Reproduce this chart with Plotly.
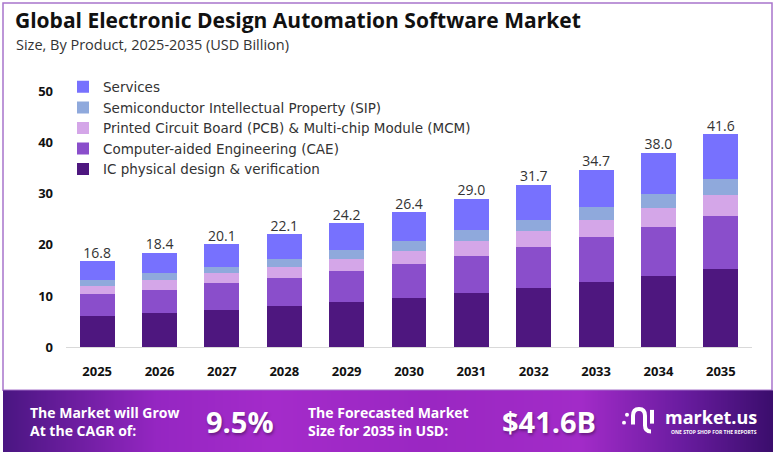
import plotly.graph_objects as go

years = ["2025", "2026", "2027", "2028", "2029", "2030", "2031", "2032", "2033", "2034", "2035"]
ic_design = [6.1, 6.7, 7.3, 8.1, 8.8, 9.7, 10.6, 11.6, 12.7, 13.9, 15.3]
cae = [4.2, 4.5, 5.2, 5.5, 6.0, 6.6, 7.2, 7.9, 8.8, 9.5, 10.4]
pcb_mcm = [1.7, 1.9, 1.9, 2.1, 2.4, 2.5, 2.9, 3.2, 3.4, 3.8, 4.0]
sip = [1.1, 1.3, 1.3, 1.5, 1.8, 1.9, 2.1, 2.2, 2.4, 2.7, 3.1]
services = [3.7, 4.0, 4.4, 4.9, 5.2, 5.7, 6.2, 6.8, 7.4, 8.1, 8.8]
totals = [16.8, 18.4, 20.1, 22.1, 24.2, 26.4, 29.0, 31.7, 34.7, 38.0, 41.6]
y_ticks = [0, 10, 20, 30, 40, 50]

series = [
    ("IC physical design & verification", ic_design, "#4E177F"),
    ("Computer-aided Engineering (CAE)", cae, "#8A4ECB"),
    ("Printed Circuit Board (PCB) & Multi-chip Module (MCM)", pcb_mcm, "#D4A6E8"),
    ("Semiconductor Intellectual Property (SIP)", sip, "#8FA9DC"),
    ("Services", services, "#7771FE"),
]

W, H = 776, 464
def px(x):
    return x / W
def py(y):
    return 1 - y / H

FONT = "Open Sans"
fig = go.Figure()

# banner gradient (decorative) on its own axes
grad_x = [0, 0.2, 0.35, 0.55, 0.75, 0.88, 1.0]
fig.add_trace(go.Heatmap(
    x=grad_x, y=[0, 1], z=[grad_x, grad_x],
    colorscale=[[0, "#4A1682"], [0.2, "#9526C2"], [0.35, "#A42BCA"], [0.55, "#9A27C2"],
                [0.75, "#A22BC8"], [0.88, "#6A1CA0"], [1.0, "#3A0D6C"]],
    zsmooth="best", showscale=False, hoverinfo="skip",
    xaxis="x2", yaxis="y2", showlegend=False,
))

for name, vals, color in series:
    fig.add_trace(go.Bar(
        x=years, y=vals, name=name, marker=dict(color=color, line=dict(width=0)),
        width=0.56,
    ))

fig.add_trace(go.Scatter(
    x=years, y=totals, mode="text", text=[f"{t:.1f}" for t in totals],
    textposition="top center", textfont=dict(family=FONT, size=14, color="#333333"),
    showlegend=False, hoverinfo="skip", cliponaxis=False,
))

fig.update_layout(
    width=W, height=H,
    margin=dict(l=0, r=0, t=0, b=0),
    paper_bgcolor="white", plot_bgcolor="white",
    barmode="stack",
    showlegend=True,
    legend=dict(x=px(63), y=py(73), xanchor="left", yanchor="top", traceorder="reversed",
                font=dict(family="DejaVu Sans", size=13.5, color="#333333"), bgcolor="rgba(0,0,0,0)",
                itemwidth=30, tracegroupgap=0),
    xaxis=dict(domain=[px(66), px(752)], type="category", range=[-0.5, 10.5],
               showline=True, linecolor="#D9D9D9", linewidth=1, ticks="",
               tickfont=dict(family=FONT, size=13, color="#111111", weight="bold"),
               ticklabelstandoff=12,
               showgrid=False, zeroline=False, fixedrange=True),
    yaxis=dict(domain=[py(354), py(67)], range=[0, 55], tickvals=y_ticks,
               showgrid=False, zeroline=False, showline=False, ticks="",
               tickfont=dict(family=FONT, size=13, color="#111111", weight="bold"),
               ticklabelstandoff=12),
    xaxis2=dict(domain=[px(3), px(773)], range=[0, 1], visible=False, anchor="y2", fixedrange=True),
    yaxis2=dict(domain=[py(461), py(398)], range=[0, 1], visible=False, anchor="x2", fixedrange=True),
)

# border around chart area
fig.add_shape(type="rect", xref="paper", yref="paper", x0=px(3), x1=px(772), y0=py(398), y1=py(3),
              line=dict(color="#A874CB", width=1.5), fillcolor="rgba(0,0,0,0)", layer="below")

# titles
fig.add_annotation(xref="paper", yref="paper", x=px(13), y=py(20), xanchor="left", yanchor="middle",
                   text="<b>Global Electronic Design Automation Software Market</b>", showarrow=False,
                   font=dict(family=FONT, size=21, color="#111111"))
fig.add_annotation(xref="paper", yref="paper", x=px(14), y=py(45), xanchor="left", yanchor="middle",
                   text="Size, By Product, 2025-2035 (USD Billion)", showarrow=False,
                   font=dict(family=FONT, size=14.5, color="#333333"))

shadow = "1px 2px 3px rgba(0,0,0,0.35)"
fig.add_annotation(xref="paper", yref="paper", x=px(28), y=py(430), xanchor="left", yanchor="middle",
                   text="<b>The Market will Grow<br>At the CAGR of:</b>", showarrow=False, align="left",
                   font=dict(family=FONT, size=14, color="white"))
fig.add_annotation(xref="paper", yref="paper", x=px(240), y=py(430), xanchor="center", yanchor="middle",
                   text="<b>9.5%</b>", showarrow=False,
                   font=dict(family=FONT, size=29, color="white", shadow=shadow))
fig.add_annotation(xref="paper", yref="paper", x=px(306), y=py(430), xanchor="left", yanchor="middle",
                   text="<b>The Forecasted Market<br>Size for 2035 in USD:</b>", showarrow=False, align="left",
                   font=dict(family=FONT, size=14, color="white"))
fig.add_annotation(xref="paper", yref="paper", x=px(549), y=py(430), xanchor="center", yanchor="middle",
                   text="<b>$41.6B</b>", showarrow=False,
                   font=dict(family=FONT, size=29, color="white", shadow=shadow))
fig.add_annotation(xref="paper", yref="paper", x=px(711), y=py(425), xanchor="center", yanchor="middle",
                   text="<b>market.us</b>", showarrow=False,
                   font=dict(family=FONT, size=18, color="white"))
fig.add_annotation(xref="paper", yref="paper", x=px(714), y=py(441), xanchor="center", yanchor="middle",
                   text="<b>ONE STOP SHOP FOR THE REPORTS</b>", showarrow=False,
                   font=dict(family=FONT, size=5, color="white"))

# logo icon (decorative)
fig.add_shape(type="circle", xref="paper", yref="paper", x0=px(622), x1=px(626), y0=py(433), y1=py(429),
              fillcolor="white", line=dict(width=0))
fig.add_shape(type="circle", xref="paper", yref="paper", x0=px(625), x1=px(629), y0=py(425), y1=py(421),
              fillcolor="white", line=dict(width=0))
fig.add_shape(type="path", xref="paper", yref="paper",
              path=f"M {px(633)} {py(433)} L {px(633)} {py(424)} Q {px(633)} {py(417)} {px(639)} {py(417)} "
                   f"Q {px(645)} {py(417)} {px(645)} {py(424)} L {px(645)} {py(434)} Q {px(645)} {py(440)} {px(651)} {py(440)}",
              line=dict(color="white", width=4), fillcolor="rgba(0,0,0,0)")
fig.add_shape(type="line", xref="paper", yref="paper", x0=px(652), x1=px(652), y0=py(432), y1=py(418),
              line=dict(color="white", width=4))

page_fix = ("document.documentElement.style.margin='0';document.body.style.margin='0';"
            "var gd=document.getElementById('{plot_id}');"
            "gd.style.position='fixed';gd.style.top='0px';gd.style.left='0px';")
fig.write_html("out.html", post_script=page_fix, config={"displayModeBar": False})
